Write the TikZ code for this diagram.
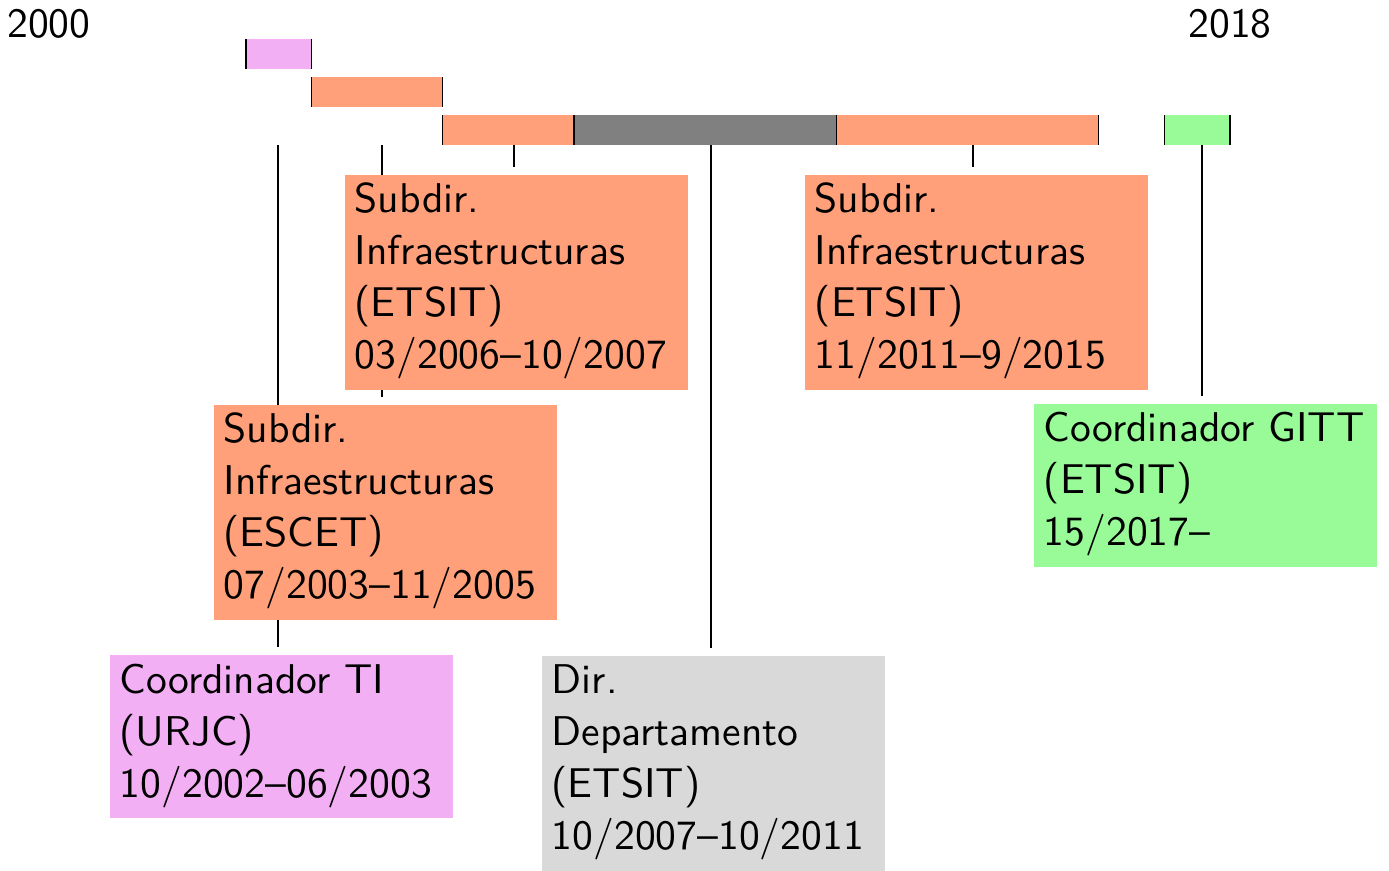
\documentclass[tikz,border=0pt]{standalone}
\usetikzlibrary{backgrounds}
\definecolor{orangec}{RGB}{255,160,122}
\definecolor{pinkc}{RGB}{243,175,243}
\definecolor{greenc}{RGB}{152,251,152}
\definecolor{darkg}{RGB}{128,128,128}
\definecolor{lightg}{RGB}{217,217,217}
\begin{document}
\begin{tikzpicture}[x=0.25pt,y=-0.25pt,
  bar/.style={inner sep=0pt,outer sep=0pt,minimum height=7.5pt,anchor=north west},
  boxs/.style={inner sep=0pt,outer sep=0pt,minimum width=85.75pt,anchor=north west},
  tall/.style={minimum height=53.75pt},
  short/.style={minimum height=40.75pt},
  txt/.style={inner sep=0pt,text width=82pt,align=left,anchor=base west,
    font=\sffamily\fontsize{10.4}{13}\selectfont},
  yearlab/.style={inner sep=0pt,anchor=base,font=\sffamily\fontsize{10.4}{13}\selectfont},
  conn/.style={line width=0.35pt,shorten >=2pt}]
\useasboundingbox (0,0) rectangle (1389,870);

% year labels
\node[yearlab] (y0) at (49,37) {2000};
\node[yearlab] (y18) at (1230,37) {2018};

% bars
\node[bar,fill=pinkc,minimum width=16.4pt] (b1) at (245.8,39) {};
\node[bar,fill=orangec,minimum width=32.8pt] (b2) at (311.4,77) {};
\node[bar,fill=orangec,minimum width=32.8pt] (b3) at (442.6,115) {};
\node[bar,fill=darkg,minimum width=65.6pt] (b4) at (573.8,115) {};
\node[bar,fill=orangec,minimum width=65.6pt] (b5) at (836.2,115) {};
\node[bar,fill=greenc,minimum width=16.4pt] (b6) at (1164.2,115) {};
\foreach \b in {b1,b2,b3,b4,b5,b6}{
  \draw[line width=0.35pt] (\b.north west) -- (\b.south west);
  \draw[line width=0.35pt] (\b.north east) -- (\b.south east);
}

% boxes
\node[boxs,tall,fill=orangec] (s1) at (345,175) {};
\node[txt] (s1t) at (354,212) {Subdir.\\Infraestructuras\\(ETSIT)\\03/2006--10/2007};
\node[boxs,tall,fill=orangec] (s2) at (805,175) {};
\node[txt] (s2t) at (814,212) {Subdir.\\Infraestructuras\\(ETSIT)\\11/2011--9/2015};
\node[boxs,tall,fill=orangec] (es) at (214,405) {};
\node[txt] (est) at (223,442) {Subdir.\\Infraestructuras\\(ESCET)\\07/2003--11/2005};
\node[boxs,short,fill=greenc] (gi) at (1034,404) {};
\node[txt] (git) at (1043,441) {Coordinador GITT\\(ETSIT)\\15/2017--};
\node[boxs,short,fill=pinkc] (ti) at (110,655) {};
\node[txt] (tit) at (119,693) {Coordinador TI\\(URJC)\\10/2002--06/2003};
\node[boxs,tall,fill=lightg] (dd) at (542,656) {};
\node[txt] (ddt) at (551,693) {Dir.\\Departamento\\(ETSIT)\\10/2007--10/2011};

% connectors
\coordinate (c1) at (278,145);
\coordinate (c2) at (382,145);
\coordinate (c3) at (514,145);
\coordinate (c4) at (711,145);
\coordinate (c5) at (973,145);
\coordinate (c6) at (1202,145);
\begin{scope}[on background layer]
\draw[conn] (c1) -- (c1 |- ti.north);
\draw[conn] (c2) -- (c2 |- es.north);
\draw[conn] (c3) -- (c3 |- s1.north);
\draw[conn] (c4) -- (c4 |- dd.north);
\draw[conn] (c5) -- (c5 |- s2.north);
\draw[conn] (c6) -- (c6 |- gi.north);
\end{scope}
\end{tikzpicture}
\end{document}
